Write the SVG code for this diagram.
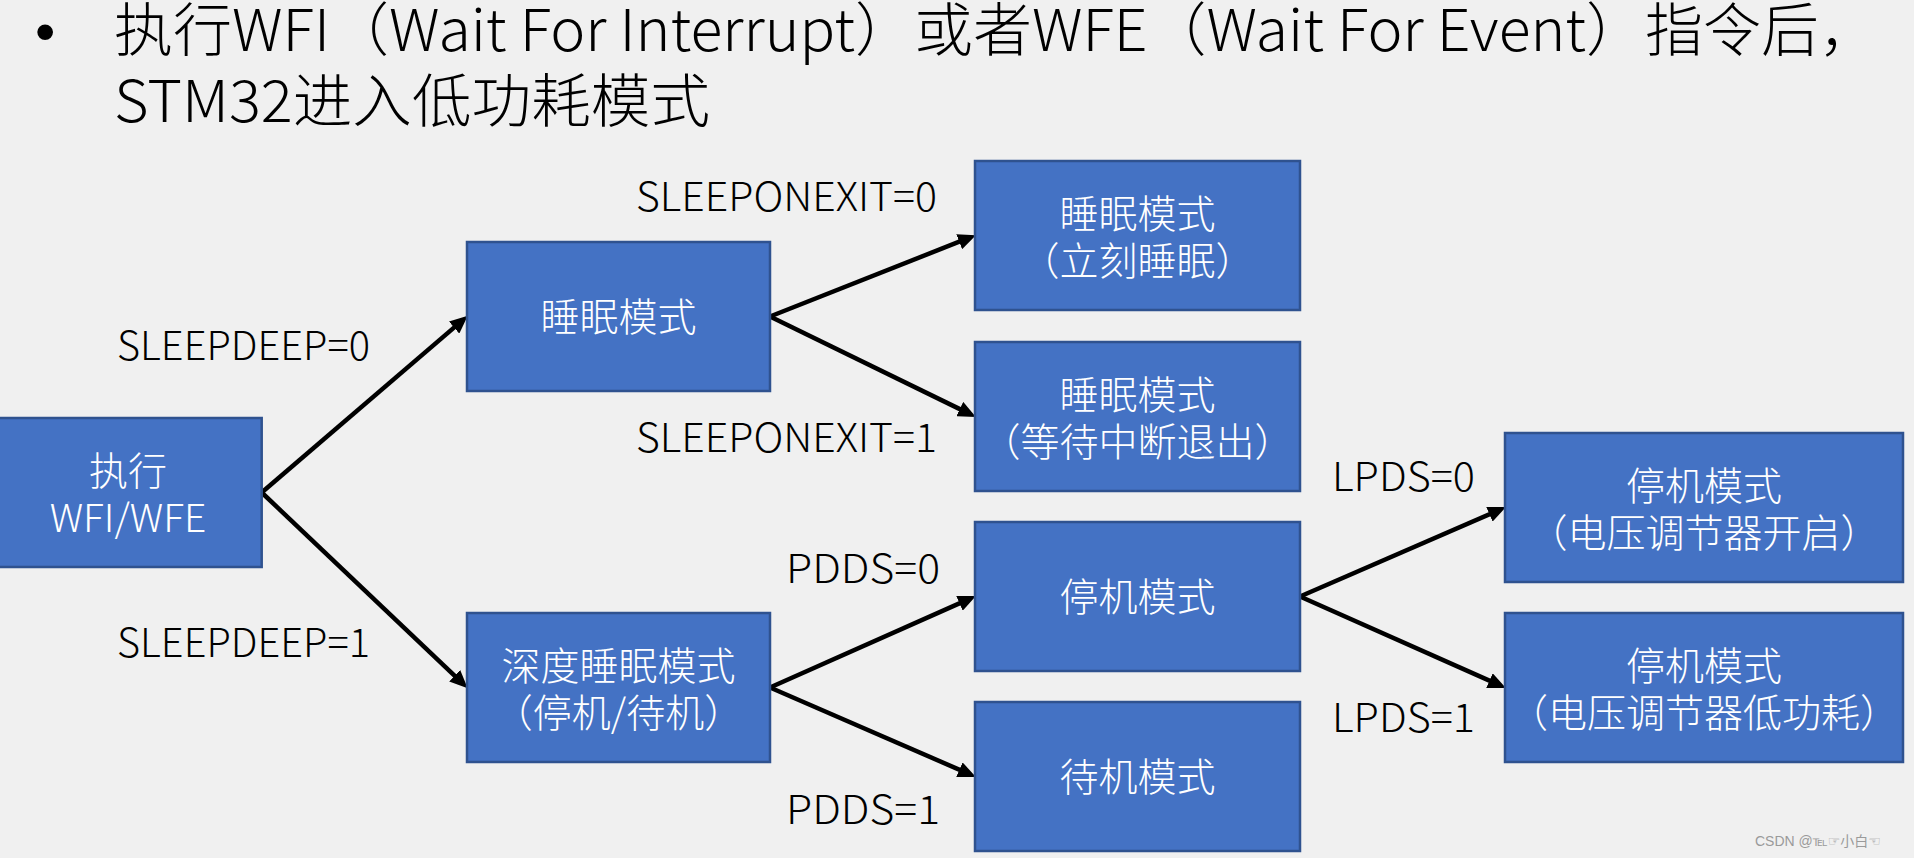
<svg xmlns="http://www.w3.org/2000/svg" width="1914" height="858" viewBox="0 0 1914 858">
<style>
.bg{fill:#F0F0F0}
.box{fill:#4472C4;stroke:#2F528F;stroke-width:2.5}
.bt{fill:#FFFFFF;font-family:"Noto Sans CJK SC","Noto Sans",sans-serif;font-size:39px;font-weight:300;text-anchor:middle;font-feature-settings:"halt" 1}
.lbl{fill:#000000;font-family:"Noto Sans CJK SC","Noto Sans",sans-serif;font-size:40px;font-weight:300}
.title{fill:#000000;font-family:"Noto Sans CJK SC","Noto Sans",sans-serif;font-size:58px;font-weight:300}
.conn{stroke:#000000;stroke-width:4.5;fill:none}
.wm{fill:#9A9A9A;font-family:"Liberation Sans","DejaVu Sans","Noto Sans CJK SC",sans-serif;font-size:14px}
</style>
<defs>
<marker id="arr" markerUnits="userSpaceOnUse" markerWidth="18" markerHeight="16" refX="11" refY="8" orient="auto">
<path d="M0,0 L18,8 L0,16 Z" fill="#000000"/>
</marker>
</defs>
<rect class="bg" x="0" y="0" width="1914" height="858"/>

<g id="title">
<text x="35" y="51" style="fill:#000;font-family:'Liberation Sans',sans-serif;font-size:58px">•</text>
<text class="title" x="114" y="51" textLength="800" lengthAdjust="spacingAndGlyphs">执行WFI（Wait For Interrupt）</text>
<text class="title" x="914" y="51" textLength="731" lengthAdjust="spacingAndGlyphs">或者WFE（Wait For Event）</text>
<text class="title" x="1645" y="51">指令后，</text>
<text class="title" x="114" y="122" textLength="596" lengthAdjust="spacingAndGlyphs">STM32进入低功耗模式</text>
</g>

<g id="connectors">
<line class="conn" x1="261.7" y1="492.5" x2="462.44" y2="320.4" marker-end="url(#arr)"/>
<line class="conn" x1="261.7" y1="492.5" x2="462.65" y2="683.37" marker-end="url(#arr)"/>
<line class="conn" x1="770" y1="316.5" x2="969.42" y2="237.7" marker-end="url(#arr)"/>
<line class="conn" x1="770" y1="316.5" x2="969.61" y2="413.87" marker-end="url(#arr)"/>
<line class="conn" x1="770" y1="687.5" x2="969.52" y2="598.93" marker-end="url(#arr)"/>
<line class="conn" x1="770" y1="687.5" x2="969.5" y2="774.11" marker-end="url(#arr)"/>
<line class="conn" x1="1300" y1="596.5" x2="1499.5" y2="509.89" marker-end="url(#arr)"/>
<line class="conn" x1="1300" y1="596.5" x2="1499.52" y2="685.07" marker-end="url(#arr)"/>
</g>

<g id="labels">
<text class="lbl" x="117" y="360" textLength="253" lengthAdjust="spacingAndGlyphs">SLEEPDEEP=0</text>
<text class="lbl" x="117" y="657" textLength="253" lengthAdjust="spacingAndGlyphs">SLEEPDEEP=1</text>
<text class="lbl" x="636" y="211" textLength="301" lengthAdjust="spacingAndGlyphs">SLEEPONEXIT=0</text>
<text class="lbl" x="636" y="452" textLength="301" lengthAdjust="spacingAndGlyphs">SLEEPONEXIT=1</text>
<text class="lbl" x="786" y="583" textLength="154" lengthAdjust="spacingAndGlyphs">PDDS=0</text>
<text class="lbl" x="786" y="824" textLength="154" lengthAdjust="spacingAndGlyphs">PDDS=1</text>
<text class="lbl" x="1332" y="491" textLength="143" lengthAdjust="spacingAndGlyphs">LPDS=0</text>
<text class="lbl" x="1332" y="732" textLength="143" lengthAdjust="spacingAndGlyphs">LPDS=1</text>
</g>

<g id="node-exec">
<rect class="box" x="-6" y="418" width="267.7" height="149"/>
<text class="bt" x="128" y="484.5">执行</text>
<text class="bt" x="128" y="531.5">WFI/WFE</text>
</g>
<g id="node-sleep">
<rect class="box" x="467" y="242" width="303" height="149"/>
<text class="bt" x="618.5" y="331">睡眠模式</text>
</g>
<g id="node-deepsleep">
<rect class="box" x="467" y="613" width="303" height="149"/>
<text class="bt" x="618.5" y="679.5">深度睡眠模式</text>
<text class="bt" x="618.5" y="726.5">（停机/待机）</text>
</g>
<g id="node-sleep-now">
<rect class="box" x="975" y="161" width="325" height="149"/>
<text class="bt" x="1137.5" y="227.5">睡眠模式</text>
<text class="bt" x="1137.5" y="274.5">（立刻睡眠）</text>
</g>
<g id="node-sleep-exit">
<rect class="box" x="975" y="342" width="325" height="149"/>
<text class="bt" x="1137.5" y="408.5">睡眠模式</text>
<text class="bt" x="1137.5" y="455.5">（等待中断退出）</text>
</g>
<g id="node-stop">
<rect class="box" x="975" y="522" width="325" height="149"/>
<text class="bt" x="1137.5" y="611">停机模式</text>
</g>
<g id="node-standby">
<rect class="box" x="975" y="702" width="325" height="149"/>
<text class="bt" x="1137.5" y="791">待机模式</text>
</g>
<g id="node-stop-on">
<rect class="box" x="1505" y="433" width="398" height="149"/>
<text class="bt" x="1704" y="499.5">停机模式</text>
<text class="bt" x="1704" y="546.5">（电压调节器开启）</text>
</g>
<g id="node-stop-lp">
<rect class="box" x="1505" y="613" width="398" height="149"/>
<text class="bt" x="1704" y="679.5">停机模式</text>
<text class="bt" x="1704" y="726.5">（电压调节器低功耗）</text>
</g>

<text class="wm" x="1755" y="846">CSDN @℡☞小白☜</text>
</svg>
